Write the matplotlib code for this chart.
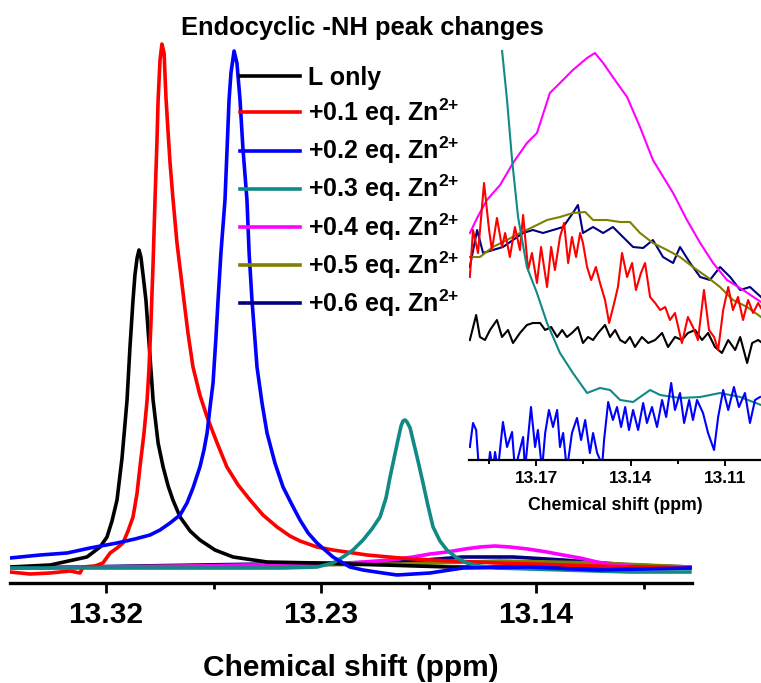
import numpy as np
from matplotlib import pyplot as plt

plt.rcParams['font.family'] = 'Liberation Sans'
plt.rcParams['font.weight'] = 'bold'
plt.rcParams['mathtext.fontset'] = 'custom'
plt.rcParams['mathtext.bf'] = 'Liberation Sans:bold'
plt.rcParams['mathtext.rm'] = 'Liberation Sans:bold'

labels = ['L only', r'+0.1 eq. Zn$^{\mathbf{2{+}}}$', r'+0.2 eq. Zn$^{\mathbf{2{+}}}$', r'+0.3 eq. Zn$^{\mathbf{2{+}}}$',
          r'+0.4 eq. Zn$^{\mathbf{2{+}}}$', r'+0.5 eq. Zn$^{\mathbf{2{+}}}$', r'+0.6 eq. Zn$^{\mathbf{2{+}}}$']
colors = ['#000000', '#ff0000', '#0000ff', '#108a85', '#ff00ff', '#808000', '#000080']

# Full spectrum (ppm, intensity a.u.)
ppm_L = [13.3602, 13.3434, 13.3280, 13.3225, 13.3196, 13.3175, 13.3154, 13.3133, 13.3112, 13.3100, 13.3087,
         13.3079, 13.3070, 13.3062, 13.3054, 13.3045, 13.3033, 13.3020, 13.3003, 13.2982, 13.2961, 13.2940,
         13.2920, 13.2890, 13.2848, 13.2807, 13.2744, 13.2668, 13.2526, 13.2317, 13.2041, 13.1760, 13.1145,
         13.0756]
int_L = [16, 18, 26, 36, 46, 62, 83, 125, 183, 235, 283, 308, 325, 333, 326, 308, 283, 240, 183, 140, 116, 97,
         83, 66, 52, 43, 33, 26, 21, 20, 18, 16, 16, 15]

ppm_01 = [13.3602, 13.3518, 13.3434, 13.3351, 13.3309, 13.3296, 13.3246, 13.3213, 13.3183, 13.3154, 13.3129,
          13.3108, 13.3087, 13.3070, 13.3058, 13.3041, 13.3028, 13.3020, 13.3012, 13.3003, 13.2995, 13.2987,
          13.2982, 13.2974, 13.2966, 13.2957, 13.2949, 13.2940, 13.2932, 13.2920, 13.2903, 13.2874, 13.2857,
          13.2836, 13.2807, 13.2777, 13.2735, 13.2694, 13.2647, 13.2597, 13.2543, 13.2484, 13.2430, 13.2388,
          13.2317, 13.2250, 13.2108, 13.1969, 13.1844, 13.1563, 13.1287, 13.1007, 13.0756]
int_01 = [11, 9, 10, 12, 10, 16, 17, 20, 30, 35, 40, 52, 66, 90, 116, 150, 183, 215, 260, 320, 383, 440, 483,
          523, 539, 530, 485, 450, 420, 385, 340, 283, 250, 216, 188, 166, 140, 116, 98, 83, 68, 56, 47, 42, 36,
          33, 28, 25, 23, 20, 18, 16, 15]

ppm_02 = [13.3602, 13.3476, 13.3363, 13.3267, 13.3154, 13.3079, 13.3016, 13.2974, 13.2932, 13.2890, 13.2861,
          13.2836, 13.2807, 13.2790, 13.2777, 13.2765, 13.2752, 13.2740, 13.2731, 13.2719, 13.2702, 13.2694,
          13.2685, 13.2677, 13.2664, 13.2652, 13.2639, 13.2627, 13.2610, 13.2601, 13.2589, 13.2568, 13.2547,
          13.2526, 13.2493, 13.2459, 13.2421, 13.2388, 13.2354, 13.2317, 13.2250, 13.2179, 13.2124, 13.2041,
          13.1982, 13.1844, 13.1706, 13.1425, 13.1145, 13.0756]
int_02 = [25, 28, 30, 35, 40, 44, 48, 53, 60, 68, 80, 95, 116, 133, 150, 175, 200, 245, 283, 330, 383, 430, 483,
          510, 532, 520, 483, 435, 383, 330, 283, 216, 180, 150, 120, 96, 78, 63, 50, 40, 26, 16, 13, 10, 8, 10,
          15, 16, 13, 15]

ppm_03 = [13.3602, 13.2459, 13.2317, 13.2250, 13.2208, 13.2166, 13.2124, 13.2087, 13.2053, 13.2028, 13.2011,
          13.1994, 13.1978, 13.1965, 13.1957, 13.1948, 13.1940, 13.1927, 13.1915, 13.1894, 13.1873, 13.1852,
          13.1831, 13.1802, 13.1773, 13.1731, 13.1689, 13.1635, 13.1563, 13.1287, 13.1007, 13.0756]
int_03 = [15, 15, 16, 20, 26, 33, 43, 54, 66, 85, 106, 125, 143, 157, 162, 163, 161, 155, 143, 122, 100, 77, 56,
          42, 33, 25, 20, 17, 15, 13, 11, 11]

ppm_04 = [13.3602, 13.2807, 13.2179, 13.2011, 13.1915, 13.1844, 13.1773, 13.1697, 13.1635, 13.1572, 13.1509,
          13.1434, 13.1354, 13.1287, 13.1216, 13.1145, 13.1078, 13.0965, 13.0756]
int_04 = [15, 17, 20, 23, 26, 29, 31, 34, 36, 37, 36, 34, 31, 28, 25, 21, 18, 16, 15]

ppm_05 = [13.3602, 13.2807, 13.1969, 13.1551, 13.1145, 13.0756]
int_05 = [15, 17, 19, 22, 20, 16]

ppm_06 = [13.3602, 13.2807, 13.1969, 13.1706, 13.1496, 13.1287, 13.1007, 13.0756]
int_06 = [15, 18, 21, 26, 26, 23, 18, 16]

# Inset, expanded region
ins_ppm_L = [13.1910, 13.1890, 13.1878, 13.1862, 13.1846, 13.1824, 13.1808, 13.1789, 13.1773, 13.1751, 13.1729,
             13.1710, 13.1687, 13.1671, 13.1652, 13.1633, 13.1617, 13.1602, 13.1586, 13.1567, 13.1551, 13.1535,
             13.1519, 13.1503, 13.1481, 13.1465, 13.1449, 13.1433, 13.1417, 13.1402, 13.1386, 13.1364, 13.1344,
             13.1322, 13.1300, 13.1281, 13.1259, 13.1237, 13.1218, 13.1195, 13.1173, 13.1154, 13.1132, 13.1110,
             13.1090, 13.1068, 13.1052, 13.1030, 13.1014, 13.0995, 13.0986]
ins_int_L = [120, 145, 123, 120, 130, 140, 123, 130, 117, 127, 135, 137, 137, 130, 133, 123, 130, 123, 127, 133,
             117, 123, 120, 127, 135, 123, 130, 120, 117, 123, 113, 123, 117, 120, 127, 113, 123, 120, 127, 130,
             120, 127, 113, 107, 120, 110, 123, 97, 117, 120, 118]

ins_ppm_01 = [13.1910, 13.1900, 13.1884, 13.1865, 13.1849, 13.1840, 13.1824, 13.1808, 13.1798, 13.1783, 13.1767,
              13.1751, 13.1741, 13.1725, 13.1713, 13.1697, 13.1684, 13.1665, 13.1652, 13.1640, 13.1624, 13.1611,
              13.1598, 13.1586, 13.1573, 13.1560, 13.1551, 13.1538, 13.1525, 13.1510, 13.1497, 13.1481, 13.1468,
              13.1452, 13.1440, 13.1427, 13.1411, 13.1395, 13.1383, 13.1367, 13.1354, 13.1338, 13.1322, 13.1306,
              13.1290, 13.1275, 13.1259, 13.1237, 13.1218, 13.1202, 13.1186, 13.1167, 13.1151, 13.1135, 13.1122,
              13.1106, 13.1090, 13.1075, 13.1059, 13.1043, 13.1027, 13.1011, 13.0995, 13.0986]
ins_int_01 = [183, 230, 207, 277, 230, 210, 242, 213, 227, 203, 233, 210, 245, 190, 207, 177, 213, 173, 213, 190,
              223, 237, 197, 223, 203, 227, 217, 193, 180, 193, 177, 160, 137, 157, 173, 207, 183, 197, 170, 187,
              197, 163, 157, 150, 153, 140, 147, 117, 143, 133, 120, 170, 130, 123, 110, 150, 173, 150, 163, 140,
              160, 147, 157, 152]

ins_ppm_02 = [13.1910, 13.1900, 13.1890, 13.1881, 13.1852, 13.1846, 13.1837, 13.1830, 13.1821, 13.1805, 13.1792,
              13.1776, 13.1767, 13.1741, 13.1735, 13.1716, 13.1703, 13.1694, 13.1681, 13.1671, 13.1659, 13.1646,
              13.1633, 13.1624, 13.1614, 13.1602, 13.1586, 13.1570, 13.1557, 13.1544, 13.1529, 13.1519, 13.1506,
              13.1490, 13.1484, 13.1471, 13.1456, 13.1443, 13.1430, 13.1417, 13.1405, 13.1392, 13.1376, 13.1360,
              13.1348, 13.1332, 13.1316, 13.1300, 13.1287, 13.1271, 13.1259, 13.1243, 13.1230, 13.1214, 13.1202,
              13.1189, 13.1170, 13.1154, 13.1135, 13.1122, 13.1106, 13.1090, 13.1072, 13.1056, 13.1037, 13.1021,
              13.1005, 13.0989]
ins_int_02 = [13, 37, 30, -10, -10, 8, -10, 8, -10, 38, 13, 28, -10, 23, -10, 53, 13, 30, -10, 27, 50, 33, 50, 13,
              27, -10, 27, 42, 20, 40, 7, 27, 7, -5, 20, 58, 40, 53, 33, 53, 30, 50, 30, 57, 37, 53, 33, 60, 43,
              77, 50, 67, 37, 60, 40, 60, 47, 27, 10, 43, 70, 50, 73, 53, 67, 37, 60, 63]

ins_ppm_03 = [13.1821, 13.1808, 13.1792, 13.1776, 13.1757, 13.1729, 13.1697, 13.1665, 13.1624, 13.1583, 13.1538,
              13.1497, 13.1465, 13.1433, 13.1392, 13.1338, 13.1306, 13.1243, 13.1179, 13.1116, 13.1052, 13.0986]
ins_int_03 = [450, 410, 360, 300, 243, 193, 167, 137, 107, 87, 67, 72, 70, 60, 58, 70, 65, 62, 63, 67, 63, 55]

ins_ppm_04 = [13.1910, 13.1887, 13.1856, 13.1814, 13.1773, 13.1729, 13.1697, 13.1656, 13.1624, 13.1583, 13.1538,
              13.1513, 13.1487, 13.1443, 13.1411, 13.1370, 13.1329, 13.1265, 13.1221, 13.1179, 13.1138, 13.1094,
              13.1043, 13.0986]
ins_int_04 = [227, 242, 260, 275, 297, 317, 327, 367, 377, 390, 402, 407, 397, 377, 363, 333, 300, 267, 240, 217,
              197, 180, 170, 158]

ins_ppm_05 = [13.1910, 13.1878, 13.1837, 13.1792, 13.1751, 13.1710, 13.1665, 13.1624, 13.1583, 13.1544, 13.1519,
              13.1475, 13.1433, 13.1402, 13.1370, 13.1329, 13.1284, 13.1243, 13.1202, 13.1157, 13.1116, 13.1075,
              13.1030, 13.0986]
ins_int_05 = [203, 203, 213, 220, 227, 233, 240, 243, 247, 248, 240, 240, 238, 238, 227, 217, 210, 203, 193, 183,
              173, 160, 153, 143]

ins_ppm_06 = [13.1910, 13.1887, 13.1868, 13.1837, 13.1805, 13.1773, 13.1741, 13.1710, 13.1678, 13.1646, 13.1614,
              13.1583, 13.1567, 13.1551, 13.1519, 13.1487, 13.1456, 13.1424, 13.1392, 13.1360, 13.1329, 13.1297,
              13.1265, 13.1243, 13.1211, 13.1179, 13.1148, 13.1116, 13.1084, 13.1052, 13.1021, 13.0986]
ins_int_06 = [193, 230, 207, 210, 213, 220, 227, 230, 227, 230, 233, 247, 255, 227, 233, 227, 233, 223, 213, 212,
              220, 203, 197, 213, 197, 183, 180, 193, 183, 170, 173, 163]

main_ppm = [ppm_L, ppm_01, ppm_02, ppm_03, ppm_04, ppm_05, ppm_06]
main_int = [int_L, int_01, int_02, int_03, int_04, int_05, int_06]
ins_ppm = [ins_ppm_L, ins_ppm_01, ins_ppm_02, ins_ppm_03, ins_ppm_04, ins_ppm_05, ins_ppm_06]
ins_int = [ins_int_L, ins_int_01, ins_int_02, ins_int_03, ins_int_04, ins_int_05, ins_int_06]

fig = plt.figure(figsize=(7.61, 6.83), dpi=100)
ax = fig.add_axes([0.01314, 0.14641, 0.89619, 0.85359])
ax.patch.set_alpha(0)

# draw back-to-front, legend keeps the original order
order = [6, 5, 4, 0, 1, 3, 2]
lines = [None] * 7
for i in order:
    lines[i], = ax.plot(main_ppm[i], main_int[i], color=colors[i], lw=2.6)

ax.set_xlim(13.3602, 13.0747)
ax.set_ylim(0, 583)
ax.set_xticks([13.32, 13.23, 13.14])
ax.set_xticklabels(['13.32', '13.23', '13.14'])
ax.set_xticks([13.275, 13.185, 13.095], minor=True)
for s in ['top', 'left', 'right']:
    ax.spines[s].set_visible(False)
ax.spines['bottom'].set_linewidth(2.4)
ax.set_yticks([])
ax.tick_params(axis='x', which='major', length=7, width=2, labelsize=21.5, pad=6)
ax.tick_params(axis='x', which='minor', length=4.5, width=2)
ax.set_xlabel('Chemical shift (ppm)', fontsize=21.5, fontweight='bold', labelpad=18)

fig.text(0.476, 1 - 28 / 683, 'Endocyclic -NH peak changes', fontsize=18.4, fontweight='bold',
         ha='center', va='center')

ax.legend(lines, labels, loc='upper left', bbox_to_anchor=(240 / 761, 1 - 66 / 683),
          bbox_transform=fig.transFigure, frameon=False, fontsize=18, handlelength=2.4,
          handletextpad=0.32, labelspacing=0.27, borderpad=0, borderaxespad=0)

# Inset
ins = fig.add_axes([0.6163, 0.3265, 0.3837, 0.60029])
ins.patch.set_alpha(0)
for i in order:
    ins.plot(ins_ppm[i], ins_int[i], color=colors[i], lw=1.5)
ins.set_xlim(13.19127, 13.0986)
ins.set_ylim(0, 410)
ins.set_xticks([13.17, 13.14, 13.11])
ins.set_xticklabels(['13.17', '13.14', '13.11'])
ins.set_xticks([13.185, 13.155, 13.125], minor=True)
for s in ['top', 'left', 'right']:
    ins.spines[s].set_visible(False)
ins.spines['bottom'].set_linewidth(1.6)
ins.set_yticks([])
ins.tick_params(axis='x', which='major', length=4, width=1.4, labelsize=12.4, pad=4)
ins.tick_params(axis='x', which='minor', length=3, width=1.4)
ins.set_xlabel('Chemical shift (ppm)', fontsize=12.7, fontweight='bold', labelpad=8)

plt.savefig('out.png', dpi=100)
